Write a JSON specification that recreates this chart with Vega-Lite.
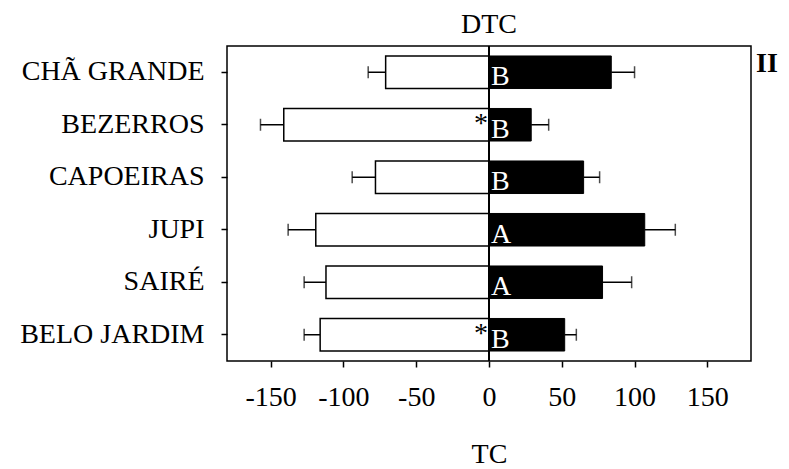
{
  "$schema": "https://vega.github.io/schema/vega-lite/v6.json",
  "autosize": "none",
  "width": 524,
  "height": 315,
  "padding": {"left": 227, "top": 46, "right": 38, "bottom": 108},
  "background": "white",
  "config": {
    "font": "Liberation Serif",
    "view": {"stroke": "black", "strokeWidth": 1.5},
    "axis": {"grid": false, "domain": false, "tickColor": "black", "tickWidth": 1.5, "tickSize": 6, "labelColor": "black", "titleColor": "black", "labelFont": "Liberation Serif", "titleFont": "Liberation Serif", "labelFontSize": 28, "titleFontSize": 28, "titleFontWeight": "normal", "labelLimit": 400}
  },
  "title": {"text": "DTC", "fontSize": 28, "fontWeight": "normal", "font": "Liberation Serif", "color": "black", "anchor": "middle", "baseline": "alphabetic", "offset": 14, "dy": 30},
  "data": {"values": [
    {"site": "CHÃ GRANDE", "tc": -71, "tcErr": -83, "dtc": 84, "dtcErr": 100, "letter": "B", "star": ""},
    {"site": "BEZERROS", "tc": -141, "tcErr": -157, "dtc": 29, "dtcErr": 41, "letter": "B", "star": "*"},
    {"site": "CAPOEIRAS", "tc": -78, "tcErr": -94, "dtc": 65, "dtcErr": 76, "letter": "B", "star": ""},
    {"site": "JUPI", "tc": -119, "tcErr": -138, "dtc": 107, "dtcErr": 128, "letter": "A", "star": ""},
    {"site": "SAIRÉ", "tc": -112, "tcErr": -127, "dtc": 78, "dtcErr": 98, "letter": "A", "star": ""},
    {"site": "BELO JARDIM", "tc": -116, "tcErr": -127, "dtc": 52, "dtcErr": 60, "letter": "B", "star": "*"}
  ]},
  "encoding": {
    "y": {"field": "site", "type": "nominal", "sort": ["CHÃ GRANDE", "BEZERROS", "CAPOEIRAS", "JUPI", "SAIRÉ", "BELO JARDIM"],
      "scale": {"paddingInner": 0.38, "paddingOuter": 0.19},
      "axis": {"title": null, "labelPadding": 17, "labelBaseline": "middle"}}
  },
  "layer": [
    {"mark": {"type": "rule", "color": "black", "strokeWidth": 1.5},
     "encoding": {"x": {"field": "tc", "type": "quantitative"}, "x2": {"field": "tcErr"}}},
    {"mark": {"type": "tick", "color": "black", "size": 12, "thickness": 1.5},
     "encoding": {"x": {"field": "tcErr", "type": "quantitative"}}},
    {"mark": {"type": "rule", "color": "black", "strokeWidth": 1.5},
     "encoding": {"x": {"field": "dtc", "type": "quantitative"}, "x2": {"field": "dtcErr"}}},
    {"mark": {"type": "tick", "color": "black", "size": 12, "thickness": 1.5},
     "encoding": {"x": {"field": "dtcErr", "type": "quantitative"}}},
    {"mark": {"type": "bar", "fill": "white", "stroke": "black", "strokeWidth": 1.5},
     "encoding": {"x": {"field": "tc", "type": "quantitative",
        "scale": {"domain": [-180, 180], "nice": false, "zero": true},
        "axis": {"values": [-150, -100, -50, 0, 50, 100, 150], "title": "TC", "labelExpr": "'' + datum.value", "labelBaseline": "alphabetic", "labelPadding": 38, "titleBaseline": "alphabetic", "titleY": 101, "labelFlush": false}}}},
    {"mark": {"type": "bar", "fill": "black", "stroke": "black", "strokeWidth": 1},
     "encoding": {"x": {"field": "dtc", "type": "quantitative"}}},
    {"mark": {"type": "rule", "color": "black", "strokeWidth": 2},
     "encoding": {"x": {"datum": 0}, "y": null}},
    {"mark": {"type": "text", "color": "white", "fontSize": 28, "align": "left", "baseline": "alphabetic", "dx": 2, "dy": 13},
     "encoding": {"x": {"datum": 0}, "text": {"field": "letter"}}},
    {"transform": [{"filter": "datum.star != ''"}],
     "mark": {"type": "text", "color": "black", "fontSize": 28, "align": "right", "baseline": "alphabetic", "dx": -1, "dy": 7},
     "encoding": {"x": {"datum": 0}, "text": {"field": "star"}}},
    {"transform": [{"filter": "datum.site == 'CHÃ GRANDE'"}],
     "mark": {"type": "text", "color": "black", "fontSize": 28, "fontWeight": "bold", "align": "left", "baseline": "middle", "dx": 5, "dy": -8, "clip": false},
     "encoding": {"x": {"datum": 180}, "text": {"value": "II"}}}
  ]
}
